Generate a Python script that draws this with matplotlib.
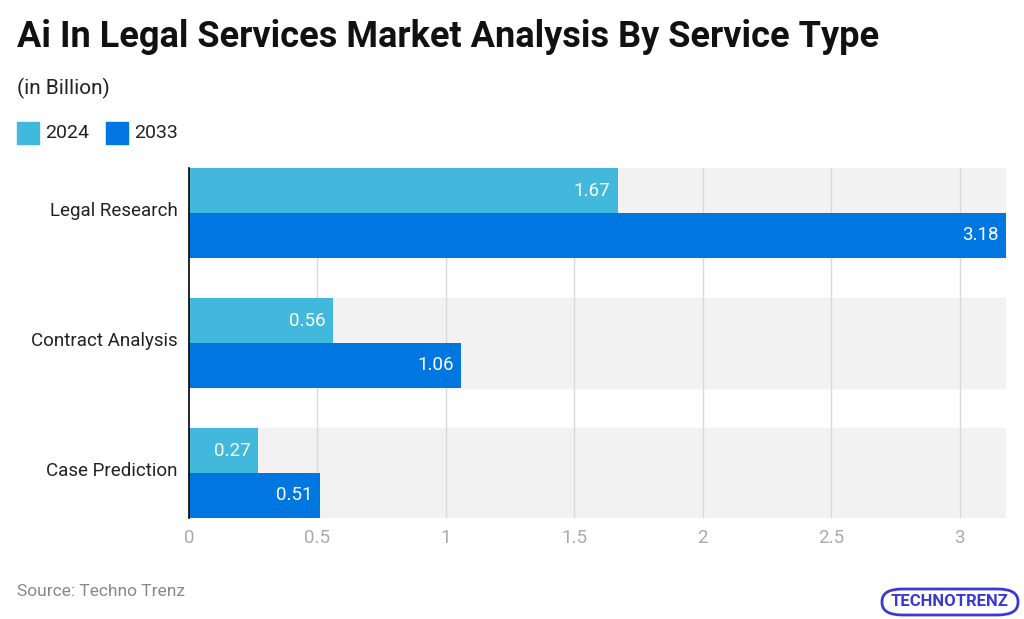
import matplotlib
matplotlib.use("Agg")
import matplotlib.pyplot as plt
from matplotlib.patches import FancyBboxPatch

categories = ["Legal Research", "Contract Analysis", "Case Prediction"]
v2024 = [1.67, 0.56, 0.27]
v2033 = [3.18, 1.06, 0.51]
xticks = [0, 0.5, 1, 1.5, 2, 2.5, 3]
xticklabels = ["0", "0.5", "1", "1.5", "2", "2.5", "3"]

plt.rcParams['font.family'] = ['Roboto', 'DejaVu Sans']
c1, c2 = "#42B8DC", "#0077E0"

fig = plt.figure(figsize=(10.24, 6.19), dpi=100)
ax = fig.add_axes([189/1024, 1-518/619, 817/1024, 350/619])
step = 1.3
h = 0.45
for i, cat in enumerate(categories):
    y = i*step
    ax.axhspan(y-h, y+h, color="#F2F2F2", zorder=0)
for xt in xticks[1:]:
    ax.axvline(xt, color="#D9D9D9", lw=1, zorder=1)
for i in range(len(categories)):
    y = i*step
    ax.barh(y-h/2, v2024[i], height=h, color=c1, zorder=2)
    ax.barh(y+h/2, v2033[i], height=h, color=c2, zorder=2)
    ax.text(v2024[i]-0.03, y-h/2, f"{v2024[i]:.2f}", ha="right", va="center", color="white", fontsize=13.5, zorder=3)
    ax.text(v2033[i]-0.03, y+h/2, f"{v2033[i]:.2f}", ha="right", va="center", color="white", fontsize=13.5, zorder=3)
ax.set_xlim(0, 3.18)
ax.set_ylim((len(categories)-1)*step+h, -h)
ax.set_yticks([i*step - 0.04 for i in range(len(categories))])
ax.set_yticklabels(categories, fontsize=13.5, color="#222222")
ax.set_xticks(xticks)
ax.set_xticklabels(xticklabels, fontsize=13.5, color="#AAAAAA")
ax.tick_params(length=0, pad=8)
for s in ["top", "right", "bottom"]:
    ax.spines[s].set_visible(False)
ax.spines["left"].set_color("black")
ax.spines["left"].set_linewidth(1.2)
ax.set_zorder(1)

fig.text(17/1024, 1-37/619, "Ai In Legal Services Market Analysis By Service Type", fontsize=26, fontweight="bold", va="center", color="#111111")
fig.text(17/1024, 1-88/619, "(in Billion)", fontsize=15, va="center", color="#222222")
fig.patches.append(plt.Rectangle((17/1024, 1-144/619), 22/1024, 22/619, transform=fig.transFigure, color=c1))
fig.text(45/1024, 1-133/619, "2024", fontsize=14, va="center", color="#222222")
fig.patches.append(plt.Rectangle((106/1024, 1-144/619), 22/1024, 22/619, transform=fig.transFigure, color=c2))
fig.text(134/1024, 1-133/619, "2033", fontsize=14, va="center", color="#222222")
fig.text(17/1024, 1-591/619, "Source: Techno Trenz", fontsize=12.5, va="center", color="#888888")
fig.patches.append(FancyBboxPatch((882/1024, 1-615/619), 136/1024, 26/619, boxstyle="round,pad=0,rounding_size=0.02",
                                  transform=fig.transFigure, facecolor="white", edgecolor="#3A3AD0", lw=2))
fig.text(950/1024, 1-602/619, "TECHNOTRENZ", fontsize=12, fontweight="bold", ha="center", va="center", color="#3A3AD0")
fig.savefig("out.png", dpi=100)
